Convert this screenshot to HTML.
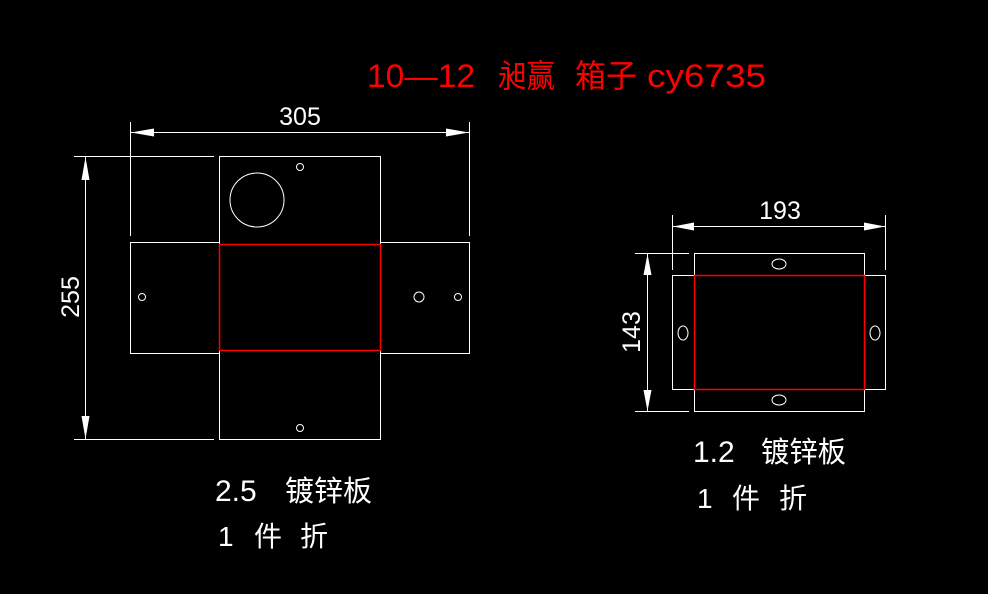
<!DOCTYPE html>
<html><head><meta charset="utf-8"><style>
html,body{margin:0;padding:0;background:#000;width:988px;height:594px;overflow:hidden}
svg{display:block}
text{font-family:"Liberation Sans","Noto Sans CJK SC",sans-serif;font-weight:normal;white-space:pre}
</style></head><body>
<svg width="988" height="594" viewBox="0 0 988 594" xmlns="http://www.w3.org/2000/svg">
<rect width="988" height="594" fill="#000"/>
<g fill="none" stroke="#fff" stroke-width="1">
<line x1="130.5" y1="122" x2="130.5" y2="236"/>
<line x1="469.5" y1="122" x2="469.5" y2="236"/>
<line x1="131" y1="132.5" x2="469" y2="132.5"/>
<line x1="74" y1="156.5" x2="214" y2="156.5"/>
<line x1="74" y1="439.5" x2="214" y2="439.5"/>
<line x1="85.5" y1="157" x2="85.5" y2="439"/>
<rect x="219.5" y="156.5" width="161" height="88"/>
<rect x="130.5" y="242.5" width="89" height="111"/>
<rect x="380.5" y="242.5" width="89" height="111"/>
<rect x="219.5" y="350.5" width="161" height="89"/>
<circle cx="257" cy="200" r="27"/>
<circle cx="300" cy="167" r="3.5"/>
<circle cx="142" cy="297" r="3.5"/>
<circle cx="419" cy="297" r="5"/>
<circle cx="458" cy="297" r="3.5"/>
<circle cx="300" cy="428" r="3.5"/>
<line x1="672.5" y1="215" x2="672.5" y2="270"/>
<line x1="885.5" y1="215" x2="885.5" y2="270"/>
<line x1="673" y1="226.5" x2="885" y2="226.5"/>
<line x1="635" y1="253.5" x2="689" y2="253.5"/>
<line x1="635" y1="411.5" x2="689" y2="411.5"/>
<line x1="647.5" y1="254" x2="647.5" y2="411"/>
<rect x="694.5" y="253.5" width="170" height="22"/>
<rect x="672.5" y="275.5" width="22" height="114"/>
<rect x="864.5" y="275.5" width="21" height="114"/>
<rect x="694.5" y="389.5" width="170" height="22"/>
<ellipse cx="779" cy="264" rx="7" ry="5"/>
<ellipse cx="779" cy="400" rx="7" ry="5"/>
<ellipse cx="683" cy="333" rx="5" ry="7"/>
<ellipse cx="875" cy="333" rx="5" ry="7"/>
</g>
<g fill="none" stroke="#f00" stroke-width="1.5">
<rect x="219.5" y="244.5" width="161" height="106"/>
<rect x="694.5" y="275.5" width="170" height="114"/>
</g>
<g fill="#fff">
<polygon points="131,132.5 154,128.5 154,136.5"/>
<polygon points="469,132.5 446,128.5 446,136.5"/>
<polygon points="85.5,157 81.5,180 89.5,180"/>
<polygon points="85.5,439 81.5,416 89.5,416"/>
<polygon points="673,226.5 694,222.5 694,230.5"/>
<polygon points="885,226.5 864,222.5 864,230.5"/>
<polygon points="647.5,254 643.5,275 651.5,275"/>
<polygon points="647.5,411 643.5,390 651.5,390"/>
</g>
<g fill="#fff">
<text x="300" y="125" font-size="25" text-anchor="middle">305</text>
<text x="780" y="219" font-size="25" text-anchor="middle">193</text>
<text transform="translate(79,297) rotate(-90)" font-size="25" text-anchor="middle">255</text>
<text transform="translate(640,332) rotate(-90)" font-size="25" text-anchor="middle">143</text>
<text x="215" y="501" font-size="30">2.5</text>
<text x="285" y="501" font-size="29" textLength="87" lengthAdjust="spacingAndGlyphs">镀锌板</text>
<text x="218" y="546" font-size="28">1</text>
<text x="254" y="546" font-size="28">件</text>
<text x="300" y="546" font-size="28">折</text>
<text x="693" y="462" font-size="30">1.2</text>
<text x="761" y="462" font-size="29" textLength="85" lengthAdjust="spacingAndGlyphs">镀锌板</text>
<text x="697" y="508" font-size="28">1</text>
<text x="732" y="508" font-size="28">件</text>
<text x="779" y="508" font-size="28">折</text>
</g>
<g fill="#f00" font-size="32">
<text x="367" y="87" textLength="108" lengthAdjust="spacingAndGlyphs">10—12</text>
<text x="498" y="87" textLength="57" lengthAdjust="spacingAndGlyphs">昶赢</text>
<text x="575" y="87" textLength="62" lengthAdjust="spacingAndGlyphs">箱子</text>
<text x="647" y="87" textLength="119" lengthAdjust="spacingAndGlyphs">cy6735</text>
</g>
</svg>
</body></html>
